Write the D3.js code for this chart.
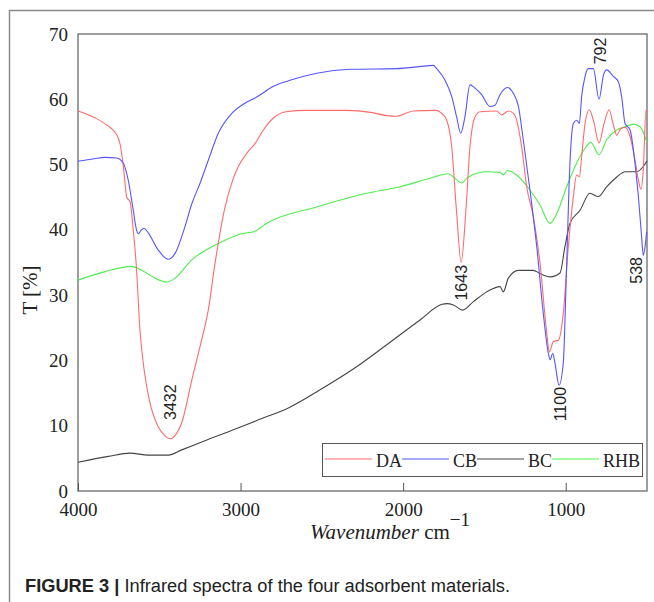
<!DOCTYPE html>
<html lang="en">
<head>
    <meta charset="UTF-8">
    <title>FTIR spectra</title>
    <style>
        body { margin: 0; background: #fff; }
        svg { display: block; }
        .serif { font-family: "Liberation Serif", "Times New Roman", serif; fill: #222; }
        .peak { font-family: "Liberation Sans", Arial, sans-serif; font-size: 16px; fill: #222; }
    </style>
    <script src="https://d3js.org/d3.v7.min.js"></script>
</head>
<body>
    <svg width="654" height="602"></svg>

    <script>
        // wavenumber (cm-1) and transmittance (%)
        const daWn = [4000, 3900, 3820, 3760, 3740, 3720, 3700, 3680, 3660, 3640, 3620, 3590, 3560, 3510, 3470, 3432, 3400, 3360, 3300, 3240, 3200, 3157, 3100, 3050, 3014, 2960, 2911, 2860, 2800, 2720, 2600, 2350, 2200, 2100, 2040, 1980, 1937, 1800, 1770, 1732, 1701, 1671, 1643, 1615, 1589, 1558, 1527, 1425, 1394, 1353, 1320, 1302, 1271, 1240, 1199, 1158, 1120, 1100, 1076, 1045, 1015, 984, 953, 933, 916, 902, 881, 855, 830, 795, 764, 733, 707, 686, 662, 635, 604, 574, 553, 537, 523, 506, 500];
        const daT  = [58.2, 57.2, 56.0, 54.5, 53.0, 49.5, 45.0, 44.3, 40.0, 34.0, 25.0, 18.0, 13.8, 10.0, 8.6, 8.0, 8.6, 10.6, 17.0, 23.1, 27.5, 34.9, 43.0, 47.5, 49.7, 51.8, 53.2, 55.3, 57.1, 58.1, 58.3, 58.3, 58.0, 57.5, 57.4, 57.9, 58.2, 58.3, 58.0, 56.8, 52.7, 42.6, 35.0, 42.6, 52.7, 57.3, 58.1, 58.2, 57.6, 58.2, 57.8, 56.8, 52.7, 46.6, 42.0, 34.9, 25.0, 21.3, 22.9, 23.1, 27.2, 37.4, 45.1, 48.4, 48.1, 51.2, 56.3, 58.4, 56.8, 53.3, 56.3, 58.4, 56.1, 54.5, 55.5, 55.7, 54.3, 50.7, 47.6, 46.2, 49.2, 58.4, 58.0];

        const cbWn = [4000, 3900, 3834, 3762, 3721, 3691, 3660, 3640, 3629, 3610, 3592, 3567, 3506, 3445, 3403, 3342, 3300, 3250, 3198, 3137, 3055, 2973, 2911, 2860, 2819, 2696, 2532, 2327, 2040, 1900, 1814, 1794, 1742, 1701, 1671, 1646, 1620, 1589, 1558, 1517, 1466, 1435, 1404, 1359, 1322, 1291, 1261, 1220, 1178, 1138, 1107, 1096, 1080, 1066, 1041, 1015, 994, 974, 953, 933, 916, 902, 881, 861, 830, 795, 768, 748, 707, 676, 656, 635, 604, 574, 553, 533, 523, 512, 502];
        const cbT  = [50.5, 50.9, 51.1, 51.0, 50.2, 47.6, 43.0, 40.0, 39.4, 40.0, 40.2, 39.5, 36.9, 35.5, 36.4, 40.5, 44.0, 47.1, 50.7, 54.8, 57.8, 59.4, 60.2, 61.0, 61.7, 62.9, 64.0, 64.6, 64.7, 65.0, 65.2, 64.7, 62.9, 60.4, 57.3, 54.8, 57.3, 62.2, 61.7, 60.7, 58.9, 59.1, 60.7, 61.8, 60.9, 58.9, 53.8, 46.1, 37.4, 27.2, 21.1, 20.1, 21.1, 19.6, 16.2, 19.6, 34.9, 50.2, 56.3, 56.8, 56.3, 60.4, 63.5, 64.7, 64.7, 60.0, 63.7, 64.5, 63.5, 62.7, 60.4, 56.3, 55.3, 50.2, 45.1, 38.9, 36.1, 37.4, 39.7];

        const bcWn = [4000, 3814, 3680, 3567, 3445, 3362, 3200, 3000, 2900, 2700, 2511, 2300, 2101, 1896, 1760, 1732, 1691, 1634, 1568, 1486, 1404, 1384, 1353, 1291, 1199, 1158, 1096, 1035, 1005, 974, 912, 851, 800, 748, 686, 635, 564, 523, 500];
        const bcT  = [4.4, 5.3, 5.8, 5.5, 5.5, 6.3, 7.9, 9.8, 10.8, 12.8, 15.5, 18.8, 22.4, 26.2, 28.6, 28.7, 28.5, 27.7, 29.0, 30.5, 31.3, 30.5, 32.6, 33.8, 33.8, 33.3, 32.8, 33.4, 37.4, 41.0, 43.0, 45.6, 45.1, 46.6, 48.1, 48.9, 48.9, 49.7, 50.6];

        const rhbWn = [4000, 3834, 3670, 3608, 3526, 3454, 3403, 3300, 3137, 2993, 2911, 2839, 2532, 2224, 2019, 1835, 1722, 1691, 1640, 1599, 1486, 1404, 1384, 1359, 1302, 1220, 1158, 1096, 1055, 994, 933, 881, 846, 795, 748, 686, 635, 584, 543, 502];
        const rhbT  = [32.3, 33.6, 34.4, 33.8, 32.6, 32.0, 32.6, 35.4, 37.9, 39.4, 39.8, 41.0, 43.5, 45.6, 46.6, 47.9, 48.6, 48.1, 47.2, 48.1, 48.9, 48.8, 48.4, 49.1, 48.4, 46.1, 43.8, 41.0, 42.5, 46.6, 50.2, 52.5, 53.4, 51.5, 53.8, 55.3, 55.8, 56.2, 55.8, 53.5];

        const seriesNames = ["DA", "CB", "BC", "RHB"];
        const seriesColors = ["#ff6b6b", "#5555ff", "#444444", "#4ded4d"];
        const xTicks = [4000, 3000, 2000, 1000];
        const yTicks = [0, 10, 20, 30, 40, 50, 60, 70];
        // peak annotations, anchored in data units next to each band
        const peaks = [
            { label: "3432", wn: 3432, t: 13.6 },
            { label: "1643", wn: 1643, t: 31.9 },
            { label: "1100", wn: 1035, t: 13.3 },
            { label: "792", wn: 792, t: 67.4 },
            { label: "538", wn: 568, t: 33.8 }
        ];

        const svg = d3.select("svg");
        const m = { left: 78, right: 647, top: 34, bottom: 491 };

        const x = d3.scaleLinear().domain([4000, 500]).range([m.left, m.right]);
        const y = d3.scaleLinear().domain([0, 70]).range([m.bottom, m.top]);

        // figure frame (only left and top edges are visible)
        svg.append("path")
            .attr("d", "M9.5,602 L9.5,10.5 L654,10.5")
            .attr("fill", "none")
            .attr("stroke", "#8a8a8a")
            .attr("stroke-width", 1.5);

        // plot box
        svg.append("rect")
            .attr("x", m.left).attr("y", m.top)
            .attr("width", m.right - m.left).attr("height", m.bottom - m.top)
            .attr("fill", "none")
            .attr("stroke", "#6a6a6a")
            .attr("stroke-width", 1.3);

        // x axis
        const gx = svg.append("g")
            .attr("transform", `translate(0,${m.bottom})`)
            .call(d3.axisBottom(x).tickValues(xTicks).tickFormat(d3.format("d"))
                .tickSizeInner(-8).tickSizeOuter(0).tickPadding(12));
        gx.select(".domain").remove();
        gx.selectAll("line").attr("stroke", "#555");
        gx.selectAll("text").attr("class", "serif").style("font-size", "19px").attr("fill", "#222");

        // y axis
        const gy = svg.append("g")
            .attr("transform", `translate(${m.left},0)`)
            .call(d3.axisLeft(y).tickValues(yTicks).tickSize(0).tickPadding(10));
        gy.select(".domain").remove();
        gy.selectAll("text").attr("class", "serif").style("font-size", "19px").attr("fill", "#222");

        // spectra
        const line = d3.line()
            .x(d => x(d[0]))
            .y(d => y(d[1]))
            .curve(d3.curveMonotoneX);

        const spectra = [
            d3.zip(daWn, daT),
            d3.zip(cbWn, cbT),
            d3.zip(bcWn, bcT),
            d3.zip(rhbWn, rhbT)
        ];
        // draw BC and RHB first so DA / CB sit on top
        [2, 3, 0, 1].forEach(i => {
            svg.append("path")
                .datum(spectra[i])
                .attr("fill", "none")
                .attr("stroke", seriesColors[i])
                .attr("stroke-width", 1.1)
                .attr("d", line);
        });

        // peak labels
        peaks.forEach(p => {
            svg.append("text")
                .attr("class", "peak")
                .attr("text-anchor", "middle")
                .attr("transform", `translate(${x(p.wn) + 6},${y(p.t)}) rotate(-90)`)
                .text(p.label);
        });

        // legend
        const lg = svg.append("g");
        lg.append("rect")
            .attr("x", 322.5).attr("y", 443.5)
            .attr("width", 320).attr("height", 33)
            .attr("fill", "#fff")
            .attr("stroke", "#555")
            .attr("stroke-width", 1);
        const lgX = [325, 402, 477, 552];
        seriesNames.forEach((name, i) => {
            lg.append("line")
                .attr("x1", lgX[i]).attr("x2", lgX[i] + 47)
                .attr("y1", 459).attr("y2", 459)
                .attr("stroke", seriesColors[i])
                .attr("stroke-width", 1.1);
            lg.append("text")
                .attr("class", "serif")
                .attr("x", lgX[i] + 51).attr("y", 467)
                .style("font-size", "18px")
                .text(name);
        });

        // axis titles
        const xt = svg.append("text")
            .attr("class", "serif")
            .attr("x", 310).attr("y", 539)
            .style("font-size", "21px");
        xt.append("tspan").style("font-style", "italic").text("Wavenumber");
        xt.append("tspan").text(" cm");
        xt.append("tspan").attr("dy", -13).style("font-size", "19px").text("−1");

        svg.append("text")
            .attr("class", "serif")
            .attr("text-anchor", "middle")
            .attr("transform", "translate(37,290) rotate(-90)")
            .style("font-size", "21px")
            .text("T [%]");

        // caption
        const cap = svg.append("text")
            .attr("x", 25).attr("y", 592)
            .attr("textLength", 485)
            .attr("lengthAdjust", "spacingAndGlyphs")
            .style("font-family", "'Liberation Sans Narrow', 'Liberation Sans', Arial, sans-serif")
            .style("font-size", "18px")
            .attr("fill", "#222");
        cap.append("tspan").style("font-weight", "bold").text("FIGURE 3 | ");
        cap.append("tspan").text("Infrared spectra of the four adsorbent materials.");
    </script>
</body>
</html>
